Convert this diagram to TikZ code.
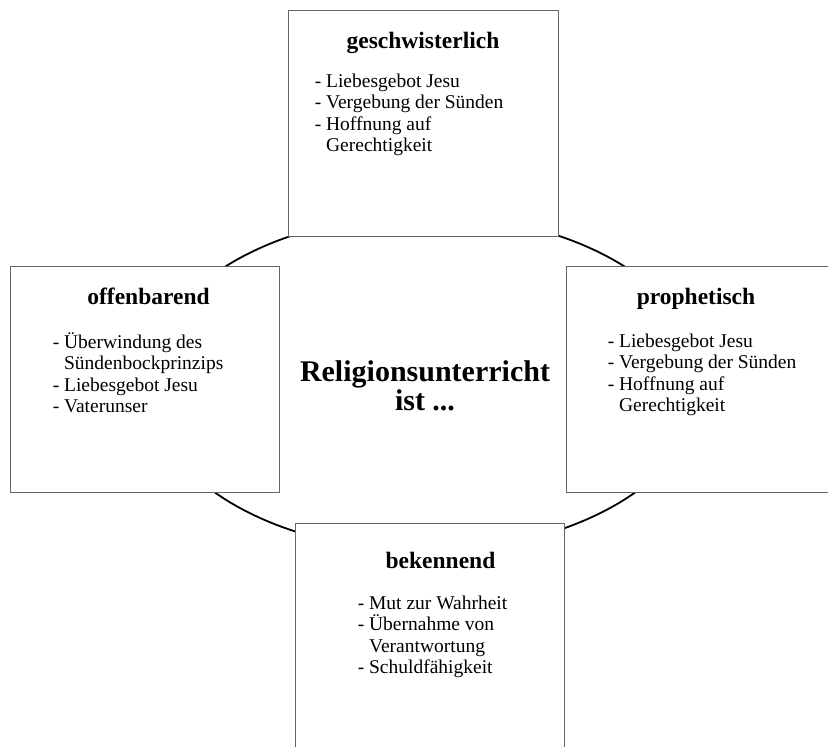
\documentclass[tikz,border=0pt]{standalone}
\usepackage{fontspec}
\setmainfont{Liberation Serif}
\usetikzlibrary{positioning}
\usetikzlibrary{shapes.geometric}

\begin{document}
\begin{tikzpicture}[x=1pt, y=-1pt,
    ring/.style={draw, ellipse, line width=1.8pt, minimum width=554pt, minimum height=336pt, inner sep=0pt},
    card/.style={draw=black!60, line width=0.9pt, fill=white, minimum width=270pt, minimum height=226pt, inner sep=0pt},
    heading/.style={anchor=base, inner sep=0pt, font=\fontsize{23.5}{27}\selectfont\bfseries},
    items/.style={anchor=base west, align=left, inner sep=0pt, font=\fontsize{19.5}{21.3}\selectfont},
    hub/.style={align=center, inner sep=0pt, font=\fontsize{30}{27}\selectfont\bfseries}]
    \useasboundingbox (0,0) rectangle (828,747);
    \clip (0,0) rectangle (828,747);

    % ring behind the cards
    \node[ring] (ring) at (425,383) {};

    % top
    \node[card] (geschwister) at (423,123) {};
    \node[heading] (geschwister-title) at ([yshift=-39pt]geschwister.north) {geschwisterlich};
    \node[items] (geschwister-list) at ([xshift=27pt, yshift=-142pt]geschwister.north west)
        {- Liebesgebot Jesu\\- Vergebung der Sünden\\- Hoffnung auf\\\phantom{- }Gerechtigkeit};

    % left
    \node[card, minimum width=269pt] (offen) at (144.5,379) {};
    \node[heading] (offen-title) at ([xshift=4pt, yshift=-39pt]offen.north) {offenbarend};
    \node[items] (offen-list) at ([xshift=43pt, yshift=-147pt]offen.north west)
        {- Überwindung des\\\phantom{- }Sündenbockprinzips\\- Liebesgebot Jesu\\- Vaterunser};

    % right
    \node[card] (prophet) at (701,379) {};
    \node[heading] (prophet-title) at ([xshift=-5pt, yshift=-39pt]prophet.north) {prophetisch};
    \node[items] (prophet-list) at ([xshift=42pt, yshift=-146pt]prophet.north west)
        {- Liebesgebot Jesu\\- Vergebung der Sünden\\- Hoffnung auf\\\phantom{- }Gerechtigkeit};

    % bottom
    \node[card, minimum width=269pt] (bekenn) at (429.5,636) {};
    \node[heading] (bekenn-title) at ([xshift=11pt, yshift=-46pt]bekenn.north) {bekennend};
    \node[items] (bekenn-list) at ([xshift=63pt, yshift=-151pt]bekenn.north west)
        {- Mut zur Wahrheit\\- Übernahme von\\\phantom{- }Verantwortung\\- Schuldfähigkeit};

    % centre
    \node[hub] (hub) at (425,386) {Religionsunterricht\\ist ...};
\end{tikzpicture}
\end{document}
